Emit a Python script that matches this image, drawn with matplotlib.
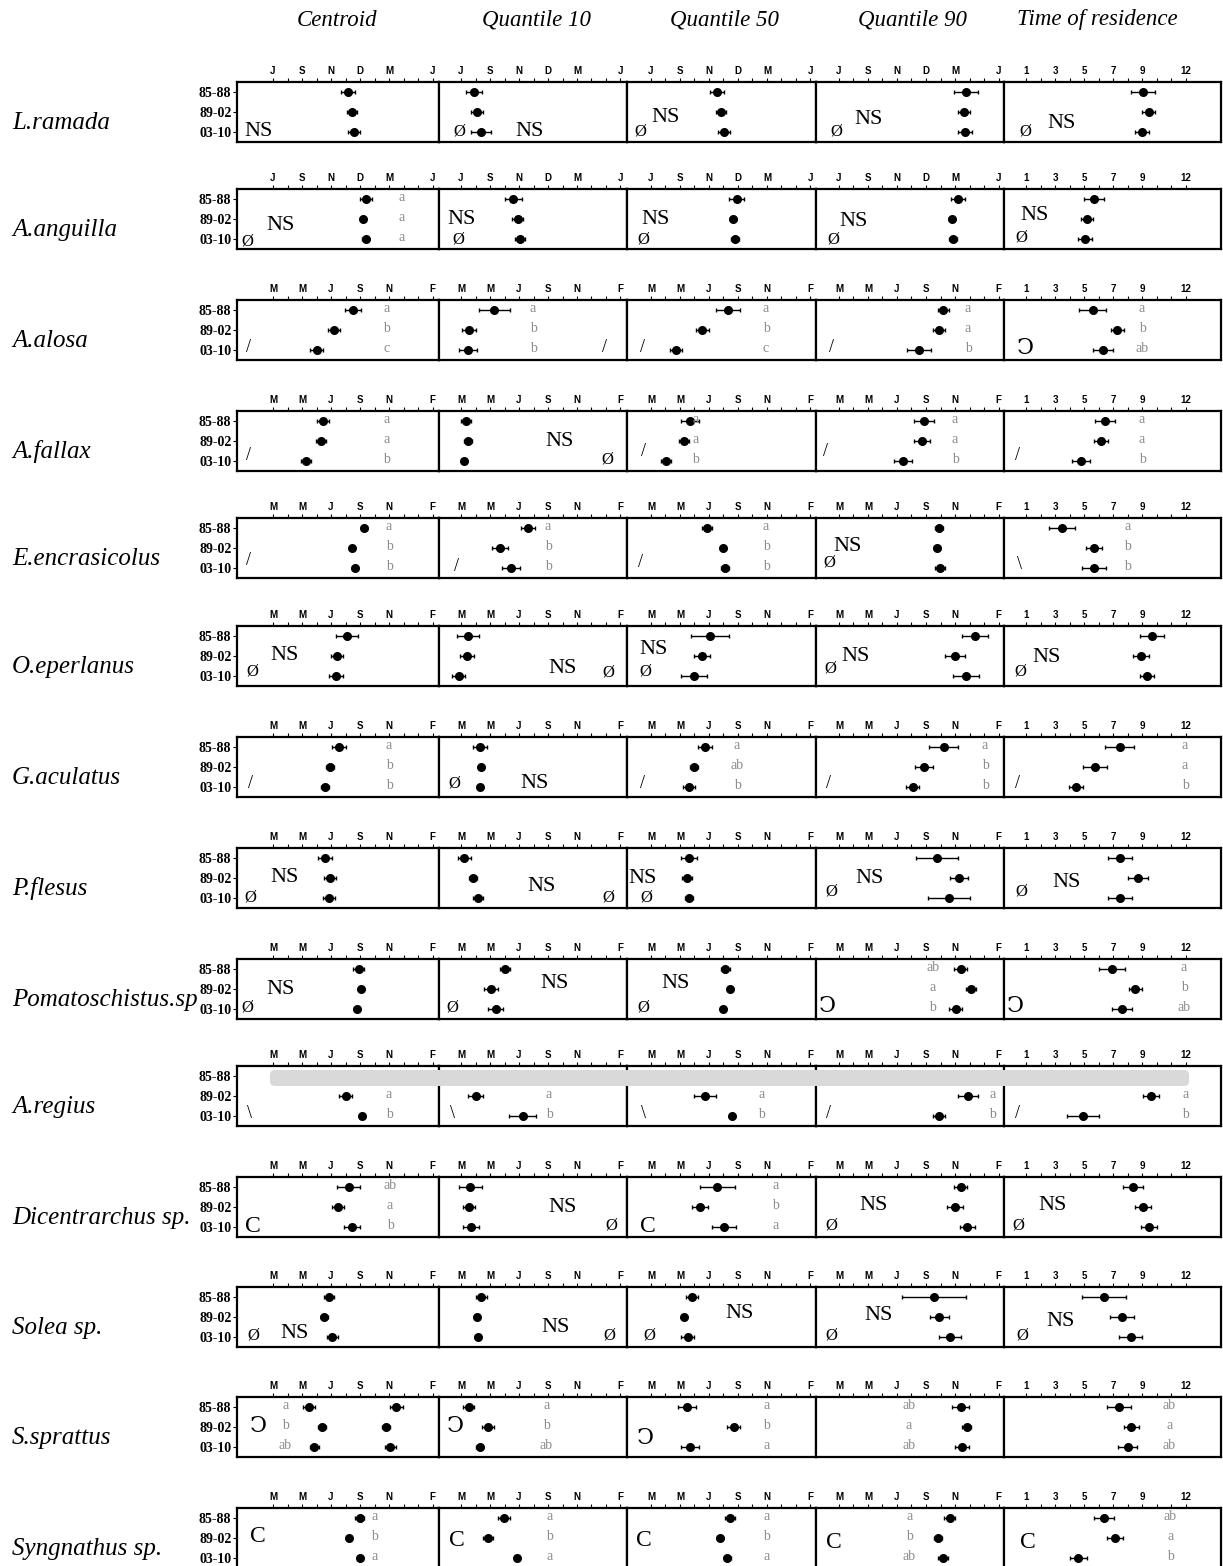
import numpy as np
import matplotlib.pyplot as plt
from matplotlib.patches import FancyBboxPatch
from matplotlib.transforms import Affine2D

W, H = 1223, 1566
nan = np.nan

species = ['L.ramada', 'A.anguilla', 'A.alosa', 'A.fallax', 'E.encrasicolus',
           'O.eperlanus', 'G.aculatus', 'P.flesus', 'Pomatoschistus.sp',
           'A.regius', 'Dicentrarchus sp.', 'Solea sp.', 'S.sprattus', 'Syngnathus sp.']
periods = ['85-88', '89-02', '03-10']
columns = ['Centroid', 'Quantile 10', 'Quantile 50', 'Quantile 90', 'Time of residence']

# month axes: tick 0 = first labelled month, one unit per month
labels_jul = ['J', 'S', 'N', 'D', 'M', 'J']
labels_mar = ['M', 'M', 'J', 'S', 'N', 'F']
labels_res = ['1', '3', '5', '7', '9', '12']

centroid = [[5.17, 5.45, 5.6], [6.4, 6.2, 6.4], [5.5, 4.2, 3.03], [3.45, 3.3, 2.28],
            [6.28, 5.45, 5.66], [5.1, 4.41, 4.34], [4.55, 3.93, 3.59], [3.59, 3.93, 3.86],
            [5.9, 6.08, 5.77], [nan, 5.01, 6.11], [5.22, 4.47, 5.43], [3.87, 3.55, 4.09],
            [2.48, 3.38, 2.85], [5.97, 5.22, 5.97]]
centroid_err = [[0.5, 0.35, 0.4], [0.4, 0.1, 0.25], [0.55, 0.4, 0.45], [0.4, 0.35, 0.35],
                [0.2, 0.1, 0.2], [0.75, 0.4, 0.5], [0.45, 0.25, 0.3], [0.5, 0.4, 0.4],
                [0.35, 0.15, 0.2], [0, 0.44, 0.1], [0.8, 0.4, 0.55], [0.35, 0.25, 0.4],
                [0.4, 0.25, 0.3], [0.3, 0.1, 0.1]]
# S.sprattus has a second (autumn) centroid
sprattus_centroid2 = [8.5, 7.8, 8.1]
sprattus_centroid2_err = [0.45, 0.25, 0.4]

q10 = [[0.9, 1.1, 1.38], [3.6, 3.9, 4.05], [2.28, 0.55, 0.48], [0.35, 0.48, 0.2],
       [4.62, 2.69, 3.45], [0.48, 0.41, -0.14], [1.31, 1.38, 1.31], [0.21, 0.83, 1.17],
       [3.06, 2.06, 2.38], [nan, 1.01, 4.25], [0.65, 0.54, 0.7], [1.4, 1.08, 1.14],
       [0.53, 1.87, 1.28], [2.95, 1.87, 3.86]]
q10_err = [[0.55, 0.4, 0.7], [0.6, 0.35, 0.35], [1.07, 0.5, 0.6], [0.35, 0.25, 0.1],
           [0.45, 0.55, 0.65], [0.75, 0.5, 0.45], [0.45, 0.1, 0.1], [0.45, 0.3, 0.35],
           [0.35, 0.5, 0.5], [0, 0.5, 0.92], [0.8, 0.4, 0.55], [0.4, 0.1, 0.2],
           [0.4, 0.4, 0.25], [0.4, 0.35, 0.1]]

q50 = [[4.55, 4.8, 5.03], [5.9, 5.63, 5.8], [5.3, 3.55, 1.72], [2.7, 2.28, 1.03],
       [3.86, 4.97, 5.1], [4.07, 3.52, 2.97], [3.72, 2.97, 2.62], [2.62, 2.48, 2.62],
       [5.13, 5.44, 4.99], [nan, 3.72, 5.6], [4.58, 3.4, 5.03], [2.83, 2.29, 2.55],
       [2.48, 5.71, 2.69], [5.44, 4.74, 5.27]]
q50_err = [[0.5, 0.35, 0.4], [0.5, 0.2, 0.3], [0.85, 0.45, 0.4], [0.6, 0.35, 0.35],
           [0.35, 0.1, 0.3], [1.3, 0.55, 0.9], [0.5, 0.3, 0.4], [0.55, 0.35, 0.3],
           [0.3, 0.1, 0.1], [0, 0.75, 0.1], [1.2, 0.55, 0.8], [0.4, 0.1, 0.45],
           [0.6, 0.45, 0.6], [0.35, 0.2, 0.25]]

q90 = [[8.76, 8.62, 8.69], [8.2, 7.8, 7.86], [7.2, 6.9, 5.5], [5.86, 5.72, 4.41],
       [6.9, 6.76, 6.97], [9.38, 8.0, 8.76], [7.24, 5.86, 5.1], [6.76, 8.28, 7.59],
       [8.4, 9.09, 8.05], [nan, 8.92, 6.9], [8.38, 8.0, 8.86], [6.55, 6.93, 7.68],
       [8.38, 8.81, 8.48], [7.63, 6.83, 7.2]]
q90_err = [[0.8, 0.4, 0.45], [0.5, 0.2, 0.3], [0.4, 0.4, 0.83], [0.7, 0.55, 0.6],
           [0.3, 0.2, 0.35], [0.9, 0.7, 0.9], [1.0, 0.6, 0.45], [1.45, 0.6, 1.45],
           [0.45, 0.35, 0.45], [0, 0.7, 0.4], [0.45, 0.55, 0.5], [2.2, 0.65, 0.75],
           [0.6, 0.3, 0.5], [0.4, 0.3, 0.35]]

# time of residence in months
residence = [[9.07, 9.48, 9.0], [5.7, 5.2, 5.07], [5.6, 7.3, 6.33], [6.45, 6.17, 4.8],
             [3.48, 5.69, 5.69], [9.69, 8.93, 9.34], [7.48, 5.76, 4.45], [7.48, 8.72, 7.48],
             [6.96, 8.55, 7.64], [nan, 9.6, 4.91], [8.38, 9.07, 9.45], [6.38, 7.62, 8.22],
             [7.41, 8.27, 8.0], [6.37, 7.14, 4.61]]
residence_err = [[0.83, 0.45, 0.5], [0.7, 0.4, 0.45], [0.95, 0.45, 0.7], [0.7, 0.5, 0.6],
                 [0.9, 0.55, 0.85], [0.8, 0.55, 0.5], [1.0, 0.8, 0.5], [0.85, 0.7, 0.85],
                 [0.9, 0.45, 0.7], [0, 0.55, 1.1], [0.7, 0.55, 0.55], [1.5, 0.8, 0.8],
                 [0.8, 0.5, 0.65], [0.7, 0.55, 0.6]]

# significance letters per species (None = no letters) and where they sit
letters_centroid = [None, ['a', 'a', 'a'], ['a', 'b', 'c'], ['a', 'a', 'b'], ['a', 'b', 'b'], None,
                    ['a', 'b', 'b'], None, None, ['', 'a', 'b'], ['ab', 'a', 'b'], None,
                    ['a', 'b', 'ab'], ['a', 'b', 'a']]
letters_centroid_x = [0, 8.9, 7.86, 7.86, 8.0, 0, 8.0, 0, 0, 8.0, 8.07, 0, 0.86, 7.03]
letters_q10 = [None, None, ['a', 'b', 'b'], None, ['a', 'b', 'b'], None, None, None, None,
               ['', 'a', 'b'], None, None, ['a', 'b', 'ab'], ['a', 'b', 'a']]
letters_q10_x = [0, 0, 4.97, 0, 6.0, 0, 0, 0, 0, 6.07, 0, 0, 5.9, 6.12]
letters_q50 = [None, None, ['a', 'b', 'c'], ['a', 'a', 'b'], ['a', 'b', 'b'], None,
               ['a', 'ab', 'b'], None, None, ['', 'a', 'b'], ['a', 'b', 'a'], None,
               ['a', 'b', 'a'], ['a', 'b', 'a']]
letters_q50_x = [0, 0, 7.93, 3.1, 7.93, 0, 5.93, 0, 0, 7.6, 8.6, 0, 7.97, 7.97]
letters_q90 = [None, None, ['a', 'a', 'b'], ['a', 'a', 'b'], None, None, ['a', 'b', 'b'], None,
               ['ab', 'a', 'b'], ['', 'a', 'b'], None, None, ['ab', 'a', 'ab'], ['a', 'b', 'ab']]
letters_q90_x = [0, 0, 8.9, 8.0, 0, 0, 10.07, 0, 6.46, 10.6, 0, 0, 4.8, 4.84]
letters_res = [None, None, ['a', 'b', 'ab'], ['a', 'a', 'b'], ['a', 'b', 'b'], None,
               ['a', 'a', 'b'], None, ['a', 'b', 'ab'], ['', 'a', 'b'], None, None,
               ['ab', 'a', 'ab'], ['ab', 'a', 'b']]
letters_res_x = [0, 0, 9.0, 9.0, 8.03, 0, 11.97, 0, 11.9, 12.0, 0, 0, 10.9, 10.96]

# test symbols drawn inside each panel: (text, x, row)
OPEN = '\u2183'
ann_centroid = [[('NS', -1.03, 2.95)], [('NS', 0.55, 2.3), ('Ø', -1.76, 3.1)],
                [('/', -1.66, 2.85)], [('/', -1.72, 2.7)], [('/', -1.66, 2.65)],
                [('NS', 0.83, 1.95), ('Ø', -1.45, 2.75)], [('/', -1.52, 2.85)],
                [('NS', 0.83, 1.95), ('Ø', -1.59, 2.95)], [('NS', 0.55, 2.05), ('Ø', -1.79, 2.9)],
                [('\\', -1.59, 2.85)], [('C', -1.4, 3.0)], [('Ø', -1.34, 2.95), ('NS', 1.5, 2.8)],
                [(OPEN, -1.03, 2.0)], [('C', -1.03, 1.95)]]
ann_q10 = [[('Ø', -0.14, 2.95), ('NS', 4.76, 2.95)], [('NS', 0.07, 2.05), ('Ø', -0.2, 3.05)],
           [('/', 9.93, 2.9)], [('NS', 6.83, 2.0), ('Ø', 10.1, 2.9)], [('/', -0.34, 2.95)],
           [('NS', 6.97, 2.6), ('Ø', 10.14, 2.8)], [('Ø', -0.48, 2.85), ('NS', 5.1, 2.85)],
           [('NS', 5.59, 2.4), ('Ø', 10.14, 2.95)], [('NS', 6.48, 1.7), ('Ø', -0.62, 2.9)],
           [('\\', -0.62, 2.85)], [('NS', 7.0, 2.05), ('Ø', 10.34, 2.9)],
           [('NS', 6.52, 2.5), ('Ø', 10.2, 2.95)], [(OPEN, -0.43, 2.0)], [('C', -0.28, 2.1)]]
ann_q50 = [[('Ø', -0.76, 3.0), ('NS', 1.03, 2.25)], [('NS', 0.34, 2.05), ('Ø', -0.55, 3.05)],
           [('/', -0.62, 2.9)], [('/', -0.55, 2.5)], [('/', -0.69, 2.75)],
           [('NS', 0.21, 1.65), ('Ø', -0.41, 2.75)], [('/', -0.62, 2.85)],
           [('NS', -0.55, 2.0), ('Ø', -0.34, 2.95)], [('NS', 1.72, 1.7), ('Ø', -0.55, 2.9)],
           [('\\', -0.55, 2.85)], [('C', -0.23, 3.0)], [('NS', 6.12, 1.85), ('Ø', -0.14, 2.95)],
           [(OPEN, -0.37, 2.65)], [('C', -0.48, 2.1)]]
ann_q90 = [[('Ø', -0.2, 3.0), ('NS', 2.07, 2.4)], [('NS', 0.97, 2.1), ('Ø', -0.41, 3.05)],
           [('/', -0.55, 2.85)], [('/', -0.9, 2.55)], [('NS', 0.62, 1.95), ('Ø', -0.69, 2.75)],
           [('NS', 1.17, 2.0), ('Ø', -0.62, 2.6)], [('/', -0.69, 2.85)],
           [('NS', 2.14, 2.0), ('Ø', -0.55, 2.65)], [(OPEN, -0.83, 2.9)], [('/', -0.69, 2.85)],
           [('NS', 2.41, 1.9), ('Ø', -0.55, 2.9)], [('NS', 2.76, 1.95), ('Ø', -0.55, 2.95)],
           [], [('C', -0.34, 2.25)]]
ann_res = [[('Ø', 0.93, 3.0), ('NS', 3.48, 2.55)], [('NS', 1.62, 1.85), ('Ø', 0.66, 2.9)],
           [(OPEN, 0.93, 2.95)], [('/', 0.38, 2.7)], [('\\', 0.52, 2.85)],
           [('NS', 2.45, 2.05), ('Ø', 0.59, 2.75)], [('/', 0.38, 2.85)],
           [('NS', 3.83, 2.2), ('Ø', 0.66, 2.65)], [(OPEN, 0.24, 2.9)], [('/', 0.38, 2.85)],
           [('NS', 2.86, 1.9), ('Ø', 0.45, 2.9)], [('NS', 3.41, 2.25), ('Ø', 0.72, 2.95)],
           [], [('C', 1.12, 2.25)]]

col_data = [(centroid, centroid_err, letters_centroid, letters_centroid_x, ann_centroid),
            (q10, q10_err, letters_q10, letters_q10_x, ann_q10),
            (q50, q50_err, letters_q50, letters_q50_x, ann_q50),
            (q90, q90_err, letters_q90, letters_q90_x, ann_q90),
            (residence, residence_err, letters_res, letters_res_x, ann_res)]

# layout in pixels
row_top = [82, 189, 300, 411, 518, 626, 737, 848, 959, 1066, 1177, 1287, 1397, 1508]
panel_edges = [237, 439, 627, 816, 1004, 1221]
tick_origin = [273, 461, 651, 839, 1026]
ppu = 14.5
box_h = 60
header_x = [337, 537, 724, 912, 1097]

serif = ['Liberation Serif', 'DejaVu Serif']
sym_size = {'NS': 16, 'Ø': 12, '/': 13, '\\': 13, 'C': 17, OPEN: 16}
gray = '#8c8c8c'

fig = plt.figure(figsize=(W / 100, H / 100), dpi=100)

for j, name in enumerate(columns):
    fig.text(header_x[j] / W, 1 - 20 / H, name, ha='center', va='center',
             fontsize=16.5, style='italic', family=serif)

for i, sp in enumerate(species):
    top = row_top[i]
    fig.text(12 / W, 1 - (top + 41) / H, sp, ha='left', va='center',
             fontsize=18, style='italic', family=serif)
    for j in range(5):
        means, errs, lets, lets_x, anns = col_data[j]
        left, right = panel_edges[j], panel_edges[j + 1]
        ax = fig.add_axes([left / W, 1 - (top + box_h) / H, (right - left) / W, box_h / H])
        base = 1 if j == 4 else 0
        ax.set_xlim(base + (left - tick_origin[j]) / ppu, base + (right - tick_origin[j]) / ppu)
        ax.set_ylim(3.5, 0.5)
        for s in ax.spines.values():
            s.set_linewidth(1.6)
        ticks = base + np.arange(12)
        tick_lab = labels_res if j == 4 else (labels_jul if i < 2 else labels_mar)
        full = [''] * 12
        for k, pos in enumerate([0, 2, 4, 6, 8, 11]):
            full[pos] = tick_lab[k]
        ax.set_xticks(ticks)
        ax.set_xticklabels(full, fontsize=7, fontweight='bold', family='Liberation Sans')
        ax.xaxis.tick_top()
        ax.tick_params(axis='x', direction='out', length=3, width=0.8, pad=1.5)
        if j == 0:
            ax.set_yticks([1, 2, 3])
            ax.set_yticklabels(periods, fontsize=10, fontweight='bold', family=serif)
            ax.tick_params(axis='y', direction='out', length=3, width=0.8, pad=1)
        else:
            ax.set_yticks([])

        for k in range(3):
            m = means[i][k]
            if np.isnan(m):
                continue
            ax.errorbar(m, k + 1, xerr=errs[i][k], fmt='o', color='black', ms=5.5,
                        elinewidth=1, capsize=1.6, capthick=1)
            if j == 0 and sp == 'S.sprattus':
                ax.errorbar(sprattus_centroid2[k], k + 1, xerr=sprattus_centroid2_err[k],
                            fmt='o', color='black', ms=5.5, elinewidth=1, capsize=1.6, capthick=1)
        if lets[i] is not None:
            for k in range(3):
                ax.text(lets_x[i], k + 0.92, lets[i][k], color=gray, fontsize=10,
                        family=serif, ha='center', va='center')
        for txt, x, y in anns[i]:
            ax.text(x, y, txt, fontsize=sym_size[txt], ha='center', va='center',
                    family=serif + ['DejaVu Sans'])

# A.regius: no data for the first period, a grey band across all panels
pix = Affine2D().scale(1 / W, 1 / H) + fig.transFigure
band = FancyBboxPatch((270, H - 1086), 919, 16, boxstyle='round,pad=0,rounding_size=5',
                      facecolor='#d9d9d9', edgecolor='none', transform=pix, zorder=10)
fig.patches.append(band)

fig.savefig('out.png', dpi=100)
